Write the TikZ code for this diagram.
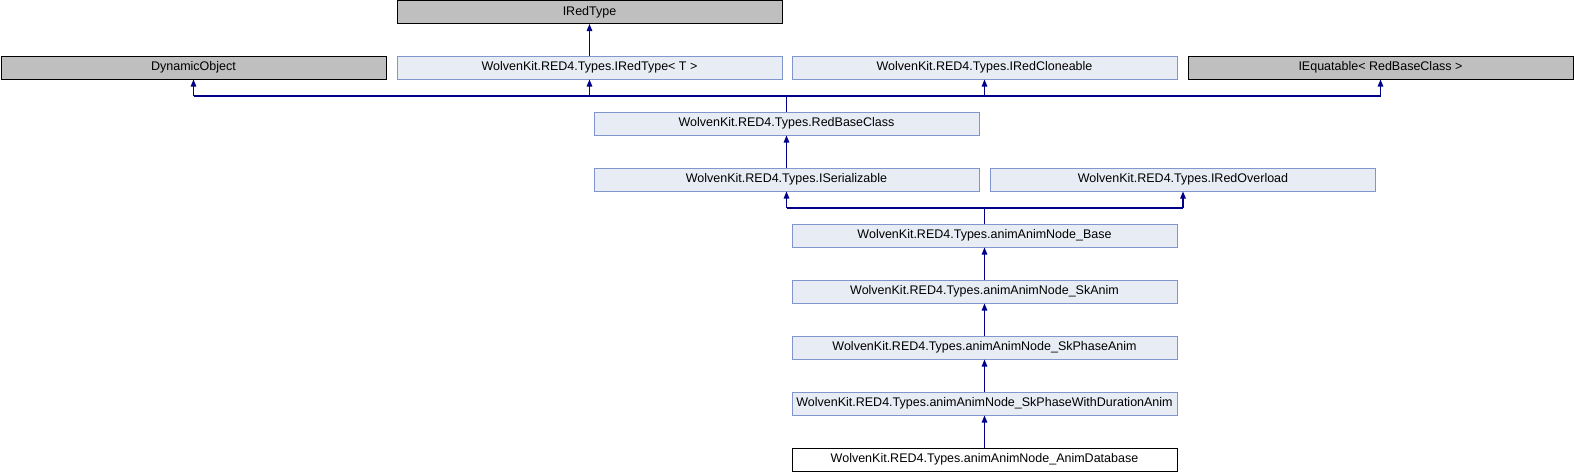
\documentclass[tikz,border=0pt]{standalone}
\usepackage{fontspec}
\setmainfont{Liberation Sans}
\usetikzlibrary{calc, positioning}
\usetikzlibrary{arrows.meta}

\definecolor{boxfill}{RGB}{232,236,245}
\definecolor{boxline}{RGB}{128,150,205}
\definecolor{extfill}{RGB}{191,191,191}
\definecolor{edgeblue}{RGB}{0,0,136}

\begin{document}
\begin{tikzpicture}[x=1pt,y=-1pt,
  cls/.style={draw=boxline,fill=boxfill,line width=1pt,minimum width=385pt,minimum height=23pt,inner sep=0pt,font=\fontsize{12.5}{14}\selectfont},
  ext/.style={cls,draw=black,fill=extfill},
  leaf/.style={cls,draw=black,fill=white},
  link/.style={draw=edgeblue,line width=1.2pt},
  inherit/.style={link,-{Triangle[length=7pt,width=5.5pt]}}]
\useasboundingbox (0,0) rectangle (1574,472);
\def\busone{96}
\def\bustwo{208}
\coordinate (BusOne) at (0,\busone);
\coordinate (BusTwo) at (0,\bustwo);

% top rows
\node[ext] (IRedType) at (589.5,12) {IRedType};
\node[ext] (DynObj) at (193.5,67.5) {DynamicObject};
\node[cls] (IRedTypeT) at (589.5,67.5) {WolvenKit.RED4.Types.IRedType< T >};
\node[cls] (Cloneable) at (984.5,67.5) {WolvenKit.RED4.Types.IRedCloneable};
\node[ext] (Equatable) at (1380.5,67.5) {IEquatable< RedBaseClass >};

% middle rows
\node[cls] (RedBase) at (786.5,123.5) {WolvenKit.RED4.Types.RedBaseClass};
\node[cls] (Serial) at (786.5,179.5) {WolvenKit.RED4.Types.ISerializable};
\node[cls] (Overload) at (1183,179.5) {WolvenKit.RED4.Types.IRedOverload};

% anim chain
\node[cls] (AnimBase) at (984.5,235.5) {WolvenKit.RED4.Types.animAnimNode\_Base};
\node[cls] (SkAnim) at (984.5,291.5) {WolvenKit.RED4.Types.animAnimNode\_SkAnim};
\node[cls] (SkPhase) at (984.5,347.5) {WolvenKit.RED4.Types.animAnimNode\_SkPhaseAnim};
\node[cls] (SkDuration) at (984.5,403.5) {WolvenKit.RED4.Types.animAnimNode\_SkPhaseWithDurationAnim};
\node[leaf] (AnimDb) at (984.5,459.5) {WolvenKit.RED4.Types.animAnimNode\_AnimDatabase};

\draw[inherit] (IRedTypeT.north) -- (IRedType.south);

% first bus
\draw[link] (RedBase.north) -- (RedBase.north |- BusOne);
\draw[link] (DynObj.south |- BusOne) -- (Equatable.south |- BusOne);
\foreach \parent in {DynObj,IRedTypeT,Cloneable,Equatable}
  \draw[inherit] (\parent.south |- BusOne) -- (\parent.south);

\draw[inherit] (Serial.north) -- (RedBase.south);

% second bus
\draw[link] (AnimBase.north) -- (AnimBase.north |- BusTwo);
\draw[link] (Serial.south |- BusTwo) -- (Overload.south |- BusTwo);
\foreach \parent in {Serial,Overload}
  \draw[inherit] (\parent.south |- BusTwo) -- (\parent.south);

\draw[inherit] (SkAnim.north) -- (AnimBase.south);
\draw[inherit] (SkPhase.north) -- (SkAnim.south);
\draw[inherit] (SkDuration.north) -- (SkPhase.south);
\draw[inherit] (AnimDb.north) -- (SkDuration.south);
\end{tikzpicture}
\end{document}
